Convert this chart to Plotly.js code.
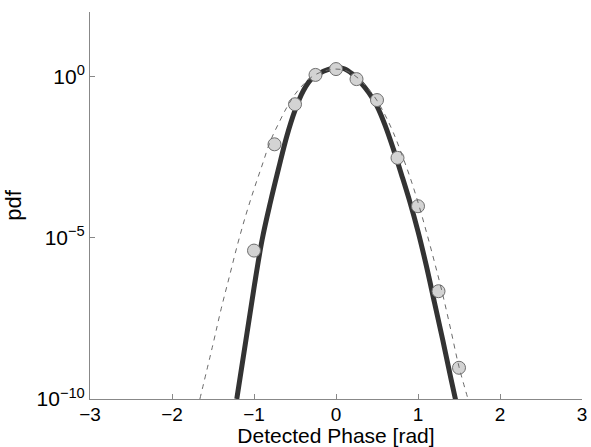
<!DOCTYPE html>
<html>
<head>
<meta charset="utf-8">
<script src="https://cdn.plot.ly/plotly-3.0.1.min.js"></script>
<style>html,body{margin:0;padding:0;background:#fff;}#chart{width:591px;height:447px;}</style>
</head>
<body>
<div id="chart"></div>
<script>
// Solid (thick) curve
var solidX = [-1.21, -1.10, -1.00, -0.90, -0.80, -0.70, -0.60, -0.50, -0.40, -0.30, -0.20, -0.10, 0.00, 0.10, 0.20, 0.30, 0.40, 0.50, 0.60, 0.70, 0.80, 0.90, 1.00, 1.10, 1.20, 1.30, 1.40, 1.46];
var solidY = [1e-10, 6.3e-9, 2.8e-7, 8.9e-6, 1.26e-4, 1.41e-3, 1.41e-2, 8.9e-2, 0.355, 0.83, 1.26, 1.62, 1.86, 1.74, 1.20, 0.66, 0.316, 0.12, 3.0e-2, 5.6e-3, 8.9e-4, 1.32e-4, 1.58e-5, 1.41e-6, 1.0e-7, 7.1e-9, 4.5e-10, 9e-11];

// Dashed (thin) curve
var dashX = [-1.66, -1.50, -1.40, -1.30, -1.20, -1.10, -1.00, -0.90, -0.80, -0.70, -0.60, -0.50, -0.40, -0.30, -0.20, -0.10, 0.00, 0.10, 0.20, 0.30, 0.40, 0.50, 0.60, 0.70, 0.80, 0.90, 1.00, 1.10, 1.20, 1.30, 1.40, 1.50, 1.61];
var dashY = [1e-10, 5.0e-9, 6.3e-8, 6.3e-7, 6.3e-6, 5.0e-5, 3.2e-4, 1.8e-3, 1.0e-2, 3.5e-2, 0.11, 0.28, 0.56, 0.95, 1.32, 1.58, 1.70, 1.58, 1.20, 0.76, 0.40, 0.18, 6.3e-2, 1.8e-2, 4.0e-3, 7.9e-4, 1.26e-4, 1.6e-5, 1.8e-6, 1.8e-7, 1.4e-8, 1.0e-9, 1e-10];

// Measured points (circles)
var pointX = [-1.00, -0.75, -0.50, -0.25, 0.00, 0.25, 0.50, 0.75, 1.00, 1.25, 1.50];
var pointY = [4.0e-6, 7.9e-3, 0.138, 1.12, 1.70, 0.83, 0.186, 3.0e-3, 9.5e-5, 2.2e-7, 9.3e-10];

// Axis ticks
var xTickVals = [-3, -2, -1, 0, 1, 2, 3];
var xTickText = ['\u22123', '\u22122', '\u22121', '0', '1', '2', '3'];
var yTickVals = [1e-10, 1e-5, 1];
var yTickText = ['10<sup>\u221210</sup>', '10<sup>\u22125</sup>', '10<sup>0</sup>'];

var font = 'Liberation Sans, Arial, Helvetica, sans-serif';

var traces = [
  {x: solidX, y: solidY, mode: 'lines', type: 'scatter',
   line: {color: '#333333', width: 5, shape: 'spline', smoothing: 1}, hoverinfo: 'skip'},
  {x: pointX, y: pointY, mode: 'markers', type: 'scatter',
   marker: {size: 13, color: '#d3d3d3', line: {color: '#6e6e6e', width: 1}}},
  {x: dashX, y: dashY, mode: 'lines', type: 'scatter',
   line: {color: '#6a6a6a', width: 1, dash: '5px,5px', shape: 'spline', smoothing: 1}, hoverinfo: 'skip'}
];

var layout = {
  width: 591, height: 447,
  margin: {l: 90, r: 9, t: 12, b: 48},
  paper_bgcolor: '#ffffff', plot_bgcolor: '#ffffff',
  showlegend: false,
  font: {family: font, color: '#000000', size: 20},
  xaxis: {
    range: [-3, 3], tickmode: 'array', tickvals: xTickVals, ticktext: xTickText,
    ticks: 'inside', ticklen: 5, tickcolor: '#888888', tickwidth: 1, ticklabelstandoff: -2,
    showline: true, linecolor: '#888888', linewidth: 1, showgrid: false, zeroline: false,
    tickfont: {family: font, size: 19, color: '#000'},
    title: {text: 'Detected Phase [rad]', font: {family: font, size: 21, color: '#000'}, standoff: 5}
  },
  yaxis: {
    type: 'log', range: [-10, 2], tickmode: 'array', tickvals: yTickVals, ticktext: yTickText,
    ticks: 'inside', ticklen: 5, tickcolor: '#888888', tickwidth: 1,
    showline: true, linecolor: '#888888', linewidth: 1, showgrid: false, zeroline: false,
    tickfont: {family: font, size: 21, color: '#000'},
    title: {text: 'pdf', font: {family: font, size: 22, color: '#000'}, standoff: 8}
  }
};

Plotly.newPlot('chart', traces, layout, {displayModeBar: false, staticPlot: true});
</script>
</body>
</html>
